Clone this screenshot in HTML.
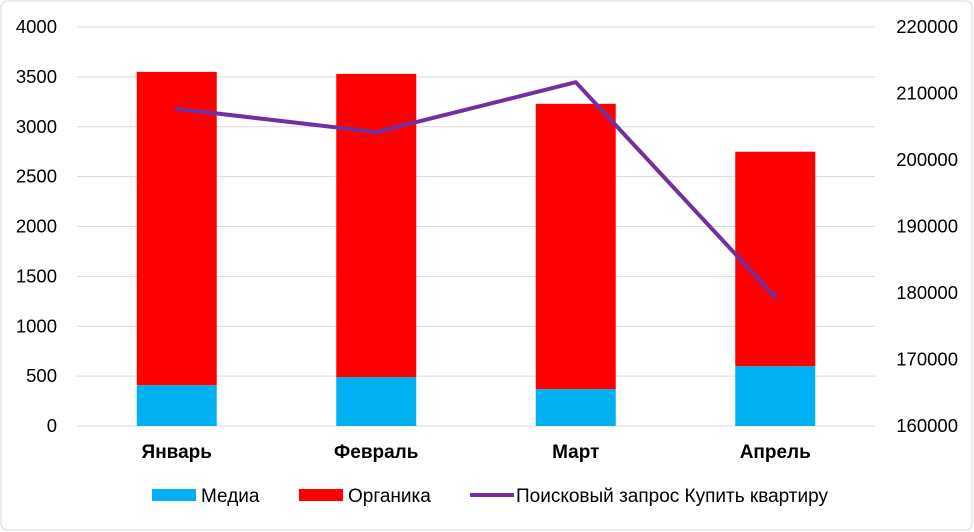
<!DOCTYPE html>
<html><head><meta charset="utf-8"><style>
body{margin:0;background:#fff;}
svg{display:block;font-family:"Liberation Sans",sans-serif;}
</style></head><body>
<svg id="chart" width="974" height="532">
<rect x="1" y="1" width="971" height="529" rx="6" fill="#fff" stroke="#d9d9d9"/>
<g id="grid"></g><g id="bars"></g><g id="line"></g><g id="axes"></g>
<g font-size="19" fill="#000">
<rect x="152" y="489" width="44" height="12" fill="#00b0f0"/>
<text x="201" y="502">Медиа</text>
<rect x="299" y="489" width="44" height="12" fill="#ff0000"/>
<text x="348" y="502">Органика</text>
<line x1="470" y1="495" x2="514" y2="495" stroke="#7030a0" stroke-width="4"/>
<text x="516" y="502">Поисковый запрос Купить квартиру</text>
</g>
</svg>
<script>
const categories=["Январь","Февраль","Март","Апрель"];
const media=[410,490,370,600];
const organika=[3140,3040,2860,2150];
const search=[207700,204200,211700,179400];
const leftTicks=[0,500,1000,1500,2000,2500,3000,3500,4000];
const rightTicks=[160000,170000,180000,190000,200000,210000,220000];
const NS="http://www.w3.org/2000/svg";
const x0=77,x1=875,yB=426,yT=27;
const yL=v=>yB-(v/4000)*(yB-yT);
const yR=v=>yB-((v-160000)/60000)*(yB-yT);
const xC=i=>x0+(i+0.5)*(x1-x0)/categories.length;
function mk(tag,attrs,parent,txt){const e=document.createElementNS(NS,tag);for(const k in attrs)e.setAttribute(k,attrs[k]);if(txt!==undefined)e.textContent=txt;document.getElementById(parent).appendChild(e);return e;}
leftTicks.forEach(t=>{
 const g=mk('line',{x1:x0,x2:x1,y1:yL(t),y2:yL(t),stroke:'#d9d9d9'},'grid');
 
 
 const l=mk('text',{x:57,y:yL(t)+6,'text-anchor':'end','font-size':'18.5'},'axes',t);
 
 
});
rightTicks.forEach(t=>{
 const l=mk('text',{x:958,y:yR(t)+6,'text-anchor':'end','font-size':'18.5'},'axes',t);
 
 
});
const bw=80;
categories.forEach((c,i)=>{
 const cx=xC(i);
 const b1=mk('rect',{x:cx-bw/2,y:yL(media[i]),width:bw,height:yB-yL(media[i]),fill:'#00b0f0'},'bars');
 
 
 const tot=media[i]+organika[i];
 const b2=mk('rect',{x:cx-bw/2,y:yL(tot),width:bw,height:yL(media[i])-yL(tot),fill:'#ff0000'},'bars');
 
 
 const l=mk('text',{x:cx,y:458,'text-anchor':'middle','font-size':'19','font-weight':'bold'},'axes',c);
 
 
});
const pts=search.map((v,i)=>xC(i)+','+yR(v)).join(' ');
const pl=mk('polyline',{points:pts,fill:'none',stroke:'#7030a0','stroke-width':'4','stroke-linejoin':'round','stroke-linecap':'round'},'line');


</script>
</body></html>
